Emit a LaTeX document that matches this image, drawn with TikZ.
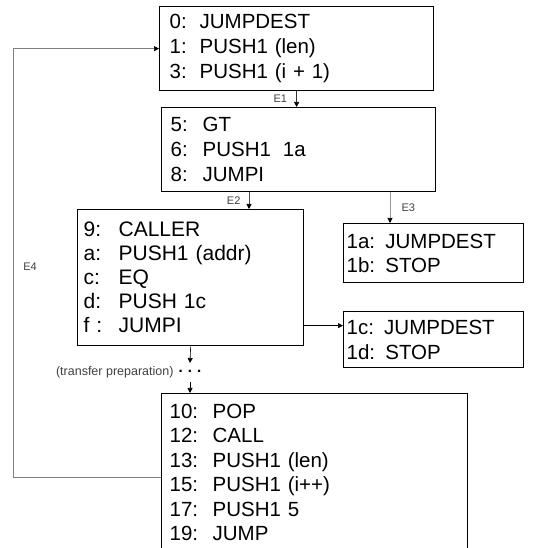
\documentclass[tikz,border=0pt]{standalone}
\usepackage{fontspec}
\setmainfont{Liberation Sans}
\usetikzlibrary{arrows.meta}
\newcommand{\opline}[3]{\makebox[#1][l]{#2}#3}

\begin{document}
\begin{tikzpicture}[x=1pt,y=-1pt,
    codebox/.style={draw,line width=1.3pt,anchor=north west,align=left,font=\fontsize{20.5}{25}\selectfont},
    flow/.style={-{Triangle[length=5pt,width=5pt,black]},line width=0.6pt},
    lbl/.style={font=\fontsize{11}{11}\selectfont,text=black!75}]
    \useasboundingbox (0,0) rectangle (550,548);
    \node[codebox,inner xsep=10pt,text width=254pt,minimum height=84pt] (A) at (159,6)
        {\opline{30pt}{0:}JUMPDEST\\\opline{30pt}{1:}PUSH1 (len)\\\opline{30pt}{3:}PUSH1 (i + 1)};
    \node[codebox,inner xsep=9pt,text width=256pt,minimum height=84pt] (B) at (161,107)
        {\opline{32pt}{5:}GT\\\opline{32pt}{6:}PUSH1\hspace{12pt}1a\\\opline{32pt}{8:}JUMPI};
    \node[codebox,inner xsep=6pt,text width=214pt,minimum height=136pt,font=\fontsize{21}{24}\selectfont] (C) at (77,209)
        {\opline{35pt}{9:}CALLER\\\opline{35pt}{a:}PUSH1 (addr)\\\opline{35pt}{c:}EQ\\\opline{35pt}{d:}PUSH 1c\\\opline{35pt}{f :}JUMPI};
    \node[codebox,inner xsep=3pt,text width=174pt,minimum height=59pt,font=\fontsize{20.5}{24}\selectfont] (D) at (343,223)
        {1a: JUMPDEST\\1b: STOP};
    \node[codebox,inner xsep=3pt,text width=174pt,minimum height=56pt] (F) at (343,311)
        {1c: JUMPDEST\\1d: STOP};
    \node[codebox,inner xsep=8pt,text width=290pt,minimum height=158pt,font=\fontsize{20.5}{24.5}\selectfont] (E) at (161,393)
        {\opline{43pt}{10:}POP\\\opline{43pt}{12:}CALL\\\opline{43pt}{13:}PUSH1 (len)\\\opline{43pt}{15:}PUSH1 (i++)\\\opline{43pt}{17:}PUSH1 5\\\opline{43pt}{19:}JUMP};
    \node[inner sep=0pt,font=\bfseries\fontsize{15}{15}\selectfont] (dots) at (190,371) {.\hspace{5pt}.\hspace{5pt}.};
    \node[lbl,anchor=east,font=\fontsize{12.5}{12.5}\selectfont] (prep) at (177,372) {(transfer preparation)};

    \draw[flow,black!80] (A.south) -- (A.south |- B.north) node[lbl,midway,left=6pt] {E1};
    \draw[flow,black!70] ([xshift=88pt]B.south west) coordinate (e2) -- (e2 |- C.north) node[lbl,midway,left=5pt] {E2};
    \draw[flow,black!40] ([xshift=229pt]B.south west) coordinate (e3) -- (e3 |- D.north) node[lbl,midway,right=8pt] {E3};
    \draw[flow] ([yshift=-48pt]C.east) coordinate (cf) -- (cf -| F.west);
    \draw[flow] (C.south) -- ([yshift=8pt]dots.center);
    \draw[flow] ([yshift=-11pt]dots.center) -- (dots.center |- E.north);
    \draw[flow,black!50] ([yshift=-5pt]E.west) -- ++(-147.5,0) |- (A.west);
    \node[lbl] (e4) at (30,267) {E4};
\end{tikzpicture}
\end{document}
